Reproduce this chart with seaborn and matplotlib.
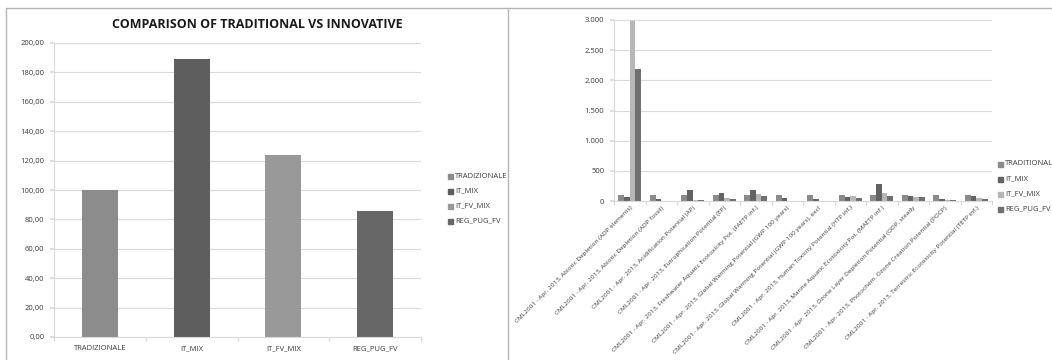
import matplotlib
matplotlib.use("Agg")
import matplotlib.pyplot as plt
import pandas as pd
import seaborn as sns
from matplotlib.lines import Line2D
from matplotlib.patches import Rectangle
from matplotlib.ticker import FuncFormatter, FixedLocator

# Left chart: single value per scenario
LEFT_SCENARIOS = ["TRADIZIONALE", "IT_MIX", "IT_FV_MIX", "REG_PUG_FV"]
LEFT_VALUES = [100.0, 189.0, 124.0, 85.5]
LEFT_COLORS = ["#8c8c8c", "#5e5e5e", "#999999", "#676767"]

# Right chart: impact categories x four scenarios
RIGHT_SERIES = ["TRADITIONAL", "IT_MIX", "IT_FV_MIX", "REG_PUG_FV"]
RIGHT_COLORS = ["#8a8a8a", "#636363", "#b6b6b6", "#6f6f6f"]
CATEGORIES = [
    "CML2001 - Apr. 2013, Abiotic Depletion (ADP elements)",
    "CML2001 - Apr. 2013, Abiotic Depletion (ADP fossil)",
    "CML2001 - Apr. 2013, Acidification Potential (AP)",
    "CML2001 - Apr. 2013, Eutrophication Potential (EP)",
    "CML2001 - Apr. 2013, Freshwater Aquatic Ecotoxicity Pot. (FAETP inf.)",
    "CML2001 - Apr. 2013, Global Warming Potential (GWP 100 years)",
    "CML2001 - Apr. 2013, Global Warming Potential (GWP 100 years), excl",
    "CML2001 - Apr. 2013, Human Toxicity Potential (HTP inf.)",
    "CML2001 - Apr. 2013, Marine Aquatic Ecotoxicity Pot. (MAETP inf.)",
    "CML2001 - Apr. 2013, Ozone Layer Depletion Potential (ODP, steady",
    "CML2001 - Apr. 2013, Photochem. Ozone Creation Potential (POCP)",
    "CML2001 - Apr. 2013, Terrestric Ecotoxicity Potential (TETP inf.)",
]
TRADITIONAL = [100, 100, 100, 100, 100, 100, 100, 100, 100, 100, 100, 100]
IT_MIX = [60, 40, 185, 125, 190, 45, 40, 60, 285, 85, 35, 85]
IT_FV_MIX = [2980, 3, 20, 45, 120, 3, 2, 75, 140, 65, 10, 55]
REG_PUG_FV = [2180, 2, 20, 30, 85, 2, 2, 45, 90, 65, 10, 35]

GRID = "#d9d9d9"
TEXT = "#3a3a3a"
FONT = ["Open Sans", "DejaVu Sans"]

sns.set_theme(style="white")
plt.rcParams["font.family"] = FONT


def style_axes(ax):
    for side in ["top", "right"]:
        ax.spines[side].set_visible(False)
    for side in ["left", "bottom"]:
        ax.spines[side].set_color(GRID)
        ax.spines[side].set_linewidth(0.8)
    ax.yaxis.grid(True, color=GRID, linewidth=0.8)
    ax.set_axisbelow(True)
    ax.set_xlabel("")
    ax.set_ylabel("")


def square_legend(fig, x, y0, labels, colors, dy):
    for i, (lab, col) in enumerate(zip(labels, colors)):
        y = y0 - i * dy
        fig.patches.append(Rectangle((x, y - 0.008), 0.0045, 0.013,
                                     transform=fig.transFigure, color=col))
        fig.text(x + 0.0065, y, lab, fontsize=5.5, color=TEXT, va="center")


fig = plt.figure(figsize=(10.52, 3.6), dpi=100)

# Panel borders
fig.add_artist(Line2D([6 / 1052, 1], [1 - 8 / 360, 1 - 8 / 360],
                      transform=fig.transFigure, color="#b3b3b3", lw=1))
fig.add_artist(Line2D([6 / 1052, 6 / 1052], [0, 1 - 8 / 360],
                      transform=fig.transFigure, color="#b3b3b3", lw=1))
fig.add_artist(Line2D([508 / 1052, 508 / 1052], [0, 1 - 8 / 360],
                      transform=fig.transFigure, color="#b3b3b3", lw=1))

# ---- Left chart ----
ax1 = fig.add_axes([54 / 1052, 23 / 360, (421 - 54) / 1052, (337 - 43) / 360])
left_df = pd.DataFrame({"scenario": LEFT_SCENARIOS, "value": LEFT_VALUES})
sns.barplot(data=left_df, x="scenario", y="value", hue="scenario",
            palette=LEFT_COLORS, order=LEFT_SCENARIOS, width=0.39,
            linewidth=0, saturation=1, legend=False, ax=ax1)
style_axes(ax1)
ax1.set_ylim(0, 200)
ax1.set_yticks(range(0, 201, 20))
ax1.yaxis.set_major_formatter(FuncFormatter(lambda v, p: f"{v:.2f}".replace(".", ",")))
ax1.set_xlim(-0.5, 3.5)
ax1.xaxis.set_minor_locator(FixedLocator([-0.5, 0.5, 1.5, 2.5, 3.5]))
ax1.tick_params(axis="x", which="major", length=0, labelsize=5.5, labelcolor=TEXT, pad=6)
ax1.tick_params(axis="x", which="minor", length=3, color=GRID, bottom=True)
ax1.tick_params(axis="y", length=3, color=GRID, left=True, labelsize=5.5,
                labelcolor=TEXT, pad=4)
fig.text(257 / 1052, 1 - 25 / 360, "COMPARISON OF TRADITIONAL VS INNOVATIVE",
         fontsize=9, fontweight="bold", color="#1a1a1a", ha="center", va="center")
square_legend(fig, 448 / 1052, 1 - 176 / 360, LEFT_SCENARIOS, LEFT_COLORS, 15 / 360)

# ---- Right chart ----
ax2 = fig.add_axes([614 / 1052, 1 - 201 / 360, (992 - 614) / 1052, (201 - 20) / 360])
right_df = pd.DataFrame({
    "category": CATEGORIES * 4,
    "series": sum([[s] * len(CATEGORIES) for s in RIGHT_SERIES], []),
    "value": TRADITIONAL + IT_MIX + IT_FV_MIX + REG_PUG_FV,
})
sns.barplot(data=right_df, x="category", y="value", hue="series",
            hue_order=RIGHT_SERIES, order=CATEGORIES, palette=RIGHT_COLORS,
            width=0.72, gap=0, linewidth=0, saturation=1, legend=False, ax=ax2)
style_axes(ax2)
ax2.set_ylim(0, 3000)
ax2.set_yticks(range(0, 3001, 500))
ax2.yaxis.set_major_formatter(FuncFormatter(lambda v, p: f"{int(v):,}".replace(",", ".")))
n = len(CATEGORIES)
ax2.set_xlim(-0.5, n - 0.5)
ax2.xaxis.set_minor_locator(FixedLocator([i - 0.5 for i in range(n + 1)]))
ax2.tick_params(axis="x", which="major", length=0, labelsize=4.6, labelcolor=TEXT, pad=3)
ax2.tick_params(axis="x", which="minor", length=3, color=GRID, bottom=True)
ax2.tick_params(axis="y", length=3, color=GRID, left=True, labelsize=5.5,
                labelcolor=TEXT, pad=4)
plt.setp(ax2.get_xticklabels(), rotation=45, ha="right", rotation_mode="anchor")
square_legend(fig, 998 / 1052, 1 - 164 / 360, RIGHT_SERIES, RIGHT_COLORS, 15 / 360)

fig.savefig("out.png", dpi=100)
